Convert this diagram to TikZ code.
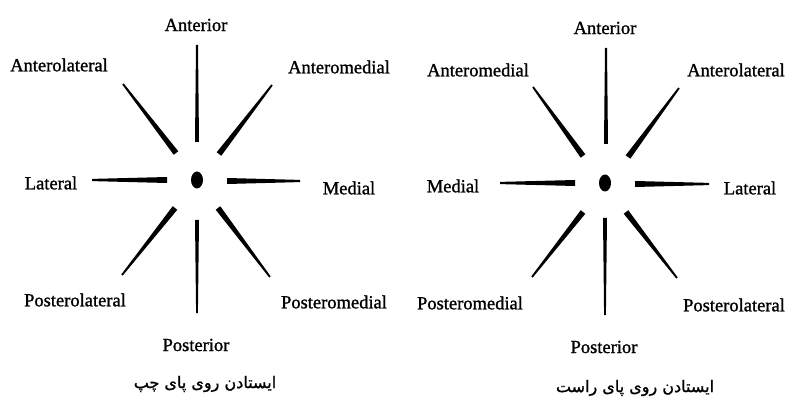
\documentclass[tikz,border=0pt]{standalone}
\usepackage{fontspec}
\setmainfont{Liberation Serif}[FakeBold=1.2]
\newfontfamily\arabicfont[Script=Arabic,FakeBold=1]{DejaVu Sans}
\TeXXeTstate=1
\usetikzlibrary{calc}

\tikzset{
  dir/.style={font=\fontsize{18.5}{19}\selectfont, inner sep=0pt},
  caption/.style={font=\arabicfont\fontsize{16}{16}\selectfont, inner sep=0pt},
  hub/.style={ellipse, fill=black, minimum width=12pt, minimum height=17pt, inner sep=0pt}
}
\usetikzlibrary{shapes.geometric}

% tapered spoke: inner point, outer point, inner half width, outer half width
\newcommand{\spoke}[4]{%
  \fill ($(#1)!#3!90:(#2)$) -- ($(#2)!#4!-90:(#1)$) -- ($(#2)!#4!90:(#1)$) -- ($(#1)!#3!-90:(#2)$) -- cycle;}

\begin{document}
\begin{tikzpicture}[x=1pt, y=-1pt]
  \useasboundingbox (0,0) rectangle (788,401);

  % left foot
  \node[hub] (hubL) at (197,180) {};
  \foreach \ix/\iy/\ox/\oy/\wi/\wo in {197/142/197/45/2.0/1.0, 176/153/123/84/2.9/0.9,
      219/154/272/85/2.9/0.9, 167/180/92/180/3.0/1.1, 227/181/300/181/3.0/1.1,
      197/220/197/313/2.0/0.9, 175/208/122/275/2.9/0.9, 218/208/270/277/2.9/0.9}
    \spoke{\ix,\iy}{\ox,\oy}{\wi pt}{\wo pt};
  \node[dir] (antL) at (196,25) {Anterior};
  \node[dir] (alatL) at (59,65) {Anterolateral};
  \node[dir] (amedL) at (339,67) {Anteromedial};
  \node[dir] (latL) at (51,183) {Lateral};
  \node[dir] (medL) at (349,188) {Medial};
  \node[dir] (platL) at (75,300) {Posterolateral};
  \node[dir] (pmedL) at (334,302) {Posteromedial};
  \node[dir] (postL) at (196,345) {Posterior};
  \node[caption] (capL) at (205,384) {\beginR ایستادن روی پای چپ\endR};

  % right foot
  \node[hub] (hubR) at (605,183) {};
  \foreach \ix/\iy/\ox/\oy/\wi/\wo in {606/144/606/48/2.0/1.0, 583/156/533/87/2.9/0.9,
      628/157/679/88/2.9/0.9, 575/183/500/183/3.0/1.1, 635/184/709/184/3.0/1.1,
      605/218/605/315/2.0/0.9, 583/212/532/277/2.9/0.9, 626/212/677/278/2.9/0.9}
    \spoke{\ix,\iy}{\ox,\oy}{\wi pt}{\wo pt};
  \node[dir] (antR) at (605,28) {Anterior};
  \node[dir] (amedR) at (478,70) {Anteromedial};
  \node[dir] (alatR) at (736,70) {Anterolateral};
  \node[dir] (medR) at (453,186) {Medial};
  \node[dir] (latR) at (750,188) {Lateral};
  \node[dir] (pmedR) at (470,303) {Posteromedial};
  \node[dir] (platR) at (734,305) {Posterolateral};
  \node[dir] (postR) at (604,347) {Posterior};
  \node[caption] (capR) at (635,388) {\beginR ایستادن روی پای راست\endR};
\end{tikzpicture}
\end{document}
